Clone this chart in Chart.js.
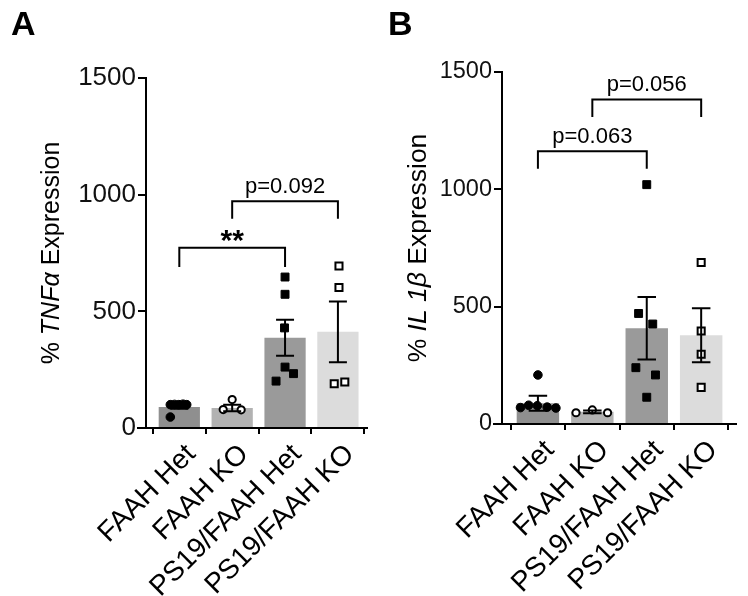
<!DOCTYPE html>
<html>
<head>
<meta charset="utf-8">
<script src="https://cdn.jsdelivr.net/npm/chart.js@4.4.1/dist/chart.umd.min.js"></script>
<style>
  html, body { margin: 0; padding: 0; background: #fff; }
  .panel { position: absolute; top: 0; width: 374px; height: 596px; }
  #pa { left: 0; }
  #pb { left: 374px; }
</style>
</head>
<body>
<div class="panel" id="pa"><canvas id="chartA"></canvas></div>
<div class="panel" id="pb"><canvas id="chartB"></canvas></div>
<script>
const FONT = "'Liberation Sans', Arial, sans-serif";

const categories = ["FAAH Het", "FAAH KO", "PS19/FAAH Het", "PS19/FAAH KO"];
const yTicks = [0, 500, 1000, 1500];
const barColors = ["#8f8f8f", "#b2b2b2", "#9a9a9a", "#dcdcdc"];

// A: TNFa
const tnfMeans = [90, 86, 387, 412];
const tnfSem = [8, 14, 77, 130];
const tnfValues = [
  [100, 101, 100, 102, 100, 47],
  [122, 79, 78],
  [647, 573, 429, 261, 233, 201],
  [694, 602, 190, 197]
];
const tnfJitter = [
  [-0.17, -0.09, -0.01, 0.07, 0.14, -0.17],
  [0, -0.17, 0.17],
  [0, 0, -0.01, 0, 0.16, -0.17],
  [0.02, 0.02, -0.07, 0.13]
];
const tnfBrackets = [
  { from: 0, to: 2, y: 773, drop: 83, label: "**" },
  { from: 1, to: 3, y: 972, drop: 75, label: "p=0.092" }
];

// B: IL1b
const il1Means = [88, 52, 408, 378];
const il1Sem = [32, 6, 133, 115];
const il1Values = [
  [209, 70, 80, 78, 72, 68],
  [48, 60, 48],
  [1020, 471, 426, 240, 209, 114],
  [688, 396, 297, 156]
];
const il1Jitter = [
  [0, -0.32, -0.17, -0.01, 0.17, 0.33],
  [-0.3, 0, 0.28],
  [0, -0.15, 0.11, -0.2, 0.16, 0],
  [0, 0, 0, 0]
];
const il1Brackets = [
  { from: 0, to: 2, y: 1162, drop: 74, label: "p=0.063" },
  { from: 1, to: 3, y: 1383, drop: 75, label: "p=0.056" }
];

const markers = [
  { style: "circle", r: 4.3, fill: "#000", bw: 1 },
  { style: "circle", r: 3.6, fill: "#fff", bw: 2 },
  { style: "rect", r: 5.6, fill: "#000", bw: 1 },
  { style: "rect", r: 5.0, fill: "#fff", bw: 2 }
];

const overlay = {
  id: "overlay",
  afterDatasetsDraw(chart, args, o) {
    const ctx = chart.ctx, xs = chart.scales.x, ys = chart.scales.y;
    const area = chart.chartArea;
    ctx.save();
    ctx.strokeStyle = "#000";
    ctx.lineWidth = 2;
    // error bars
    o.means.forEach((m, i) => {
      const x = xs.getPixelForValue(i);
      const cap = xs.getPixelForValue(i + 0.17) - x;
      const top = ys.getPixelForValue(m + o.sem[i]);
      const bot = ys.getPixelForValue(m - o.sem[i]);
      ctx.beginPath();
      ctx.moveTo(x, top); ctx.lineTo(x, bot);
      ctx.moveTo(x - cap, top); ctx.lineTo(x + cap, top);
      ctx.moveTo(x - cap, bot); ctx.lineTo(x + cap, bot);
      ctx.stroke();
    });
    // x axis runs a little past the y axis
    ctx.beginPath();
    ctx.moveTo(area.left - 9, area.bottom);
    ctx.lineTo(area.left, area.bottom);
    ctx.stroke();
    // significance brackets
    o.brackets.forEach(b => {
      const x1 = xs.getPixelForValue(b.from), x2 = xs.getPixelForValue(b.to);
      const y = ys.getPixelForValue(b.y), yl = ys.getPixelForValue(b.y - b.drop);
      ctx.beginPath();
      ctx.moveTo(x1, yl); ctx.lineTo(x1, y); ctx.lineTo(x2, y); ctx.lineTo(x2, yl);
      ctx.stroke();
      ctx.fillStyle = "#000";
      ctx.textAlign = "center";
      ctx.textBaseline = "alphabetic";
      if (b.label === "**") {
        ctx.font = "bold 30px " + FONT;
        ctx.fillText(b.label, (x1 + x2) / 2, y + 2);
      } else {
        ctx.font = "22px " + FONT;
        ctx.fillText(b.label, (x1 + x2) / 2, y - 8);
      }
    });
    ctx.restore();
  },
  afterDraw(chart, args, o) {
    const ctx = chart.ctx, area = chart.chartArea;
    ctx.save();
    ctx.fillStyle = "#000";
    // panel letter
    ctx.font = "bold 34px " + FONT;
    ctx.textAlign = "left";
    ctx.textBaseline = "alphabetic";
    ctx.fillText(o.letter, o.letterX, 35);
    // y title with italic gene name
    const parts = o.title;
    const f = p => (p.it ? "italic " : "") + o.titleSize + "px " + FONT;
    let total = 0;
    parts.forEach(p => { ctx.font = f(p); p.w = ctx.measureText(p.t).width; total += p.w; });
    ctx.translate(o.titleX, (area.top + area.bottom) / 2);
    ctx.rotate(-Math.PI / 2);
    let x = -total / 2;
    parts.forEach(p => {
      ctx.font = f(p);
      ctx.fillText(p.t, x, 0);
      x += p.w;
    });
    ctx.restore();
  }
};

function makeChart(id, cfg) {
  const pointSets = cfg.values.map((vals, i) => ({
    type: "scatter",
    data: vals.map((v, j) => ({ x: i + cfg.jitter[i][j], y: v })),
    pointStyle: markers[i].style,
    pointRadius: markers[i].r,
    pointBackgroundColor: markers[i].fill,
    pointBorderColor: "#000",
    pointBorderWidth: markers[i].bw,
    order: 0
  }));
  return new Chart(document.getElementById(id), {
    type: "bar",
    data: {
      datasets: [{
        type: "bar",
        data: cfg.means.map((m, i) => ({ x: i, y: m })),
        backgroundColor: barColors,
        barPercentage: 0.78,
        categoryPercentage: 1,
        order: 1
      }].concat(pointSets)
    },
    options: {
      responsive: true,
      maintainAspectRatio: false,
      animation: false,
      layout: { padding: { top: cfg.top, right: cfg.right, left: 0, bottom: 0 } },
      plugins: {
        legend: { display: false },
        tooltip: { enabled: false },
        overlay: { means: cfg.means, sem: cfg.sem, brackets: cfg.brackets, letter: cfg.letter,
                   letterX: cfg.letterX, title: cfg.title, titleX: cfg.titleX, titleSize: cfg.titleSize }
      },
      scales: {
        x: {
          type: "linear", min: cfg.xMin, max: cfg.xMax, offset: false,
          afterBuildTicks: s => { s.ticks = categories.map((c, i) => ({ value: i })); },
          afterFit: s => { s.height = cfg.xHeight; },
          grid: { drawOnChartArea: false, tickLength: 6, color: "#000", lineWidth: 2 },
          border: { color: "#000", width: 2 },
          ticks: { callback: v => categories[v], minRotation: 45, maxRotation: 45, autoSkip: false,
                   font: { family: FONT, size: 28 }, color: "#000", padding: 4, labelOffset: 12 }
        },
        y: {
          min: 0, max: 1500,
          afterBuildTicks: s => { s.ticks = yTicks.map(v => ({ value: v })); },
          afterFit: s => { s.width = cfg.yWidth; },
          grid: { drawOnChartArea: false, tickLength: 8, color: "#000", lineWidth: 2 },
          border: { color: "#000", width: 2 },
          ticks: { callback: v => String(v), font: { family: FONT, size: cfg.tickSize }, color: "#111", padding: 2 }
        }
      }
    },
    plugins: [overlay]
  });
}

makeChart("chartA", {
  means: tnfMeans, sem: tnfSem, values: tnfValues, jitter: tnfJitter, brackets: tnfBrackets,
  letter: "A", letterX: 11, titleX: 59, titleSize: 25,
  title: [{ t: "% " }, { t: "TNFα", it: true }, { t: " Expression" }],
  xMin: -0.63, xMax: 3.55, top: 78, right: 2, yWidth: 146, xHeight: 168, tickSize: 26
});

makeChart("chartB", {
  means: il1Means, sem: il1Sem, values: il1Values, jitter: il1Jitter, brackets: il1Brackets,
  letter: "B", letterX: 14, titleX: 52, titleSize: 26.5,
  title: [{ t: "% " }, { t: "IL 1β", it: true }, { t: " Expression" }],
  xMin: -0.66, xMax: 3.64, top: 72, right: 12, yWidth: 128, xHeight: 172, tickSize: 23.5
});
</script>
</body>
</html>
